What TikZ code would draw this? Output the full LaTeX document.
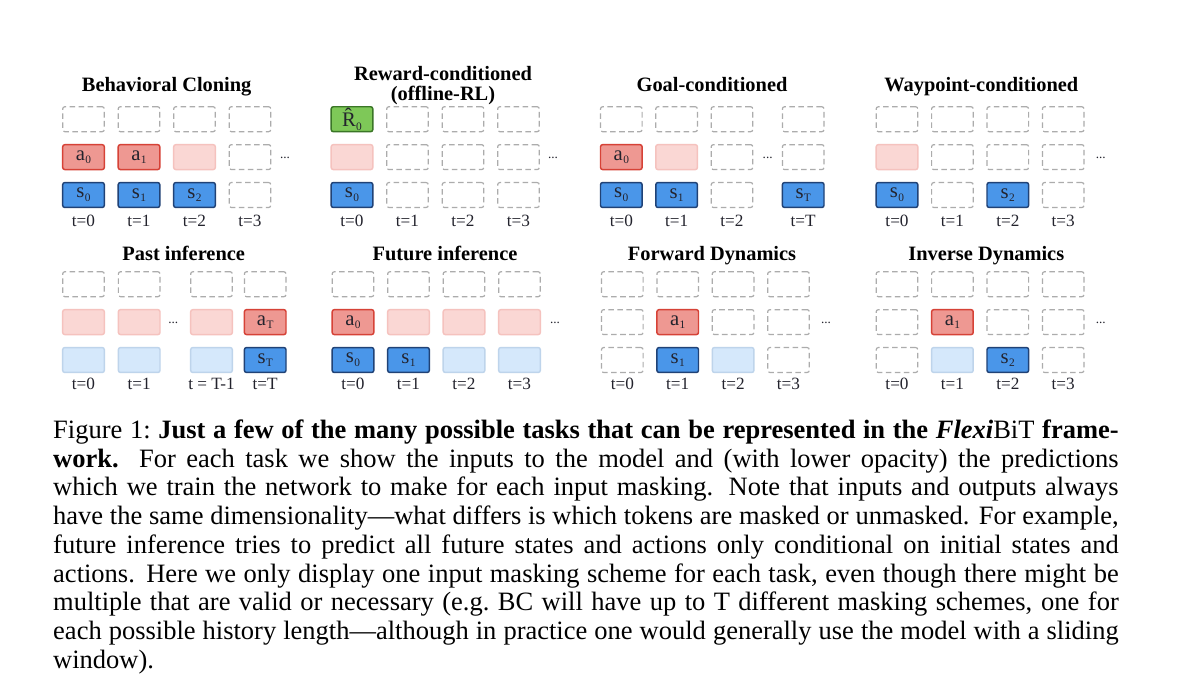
\documentclass[tikz,border=0pt]{standalone}
\usepackage{fontspec}
\setmainfont{Liberation Serif}
\definecolor{dgray}{RGB}{172,172,172}
\definecolor{actF}{RGB}{238,152,146}
\definecolor{actD}{RGB}{214,66,55}
\definecolor{actLF}{RGB}{250,215,212}
\definecolor{actLD}{RGB}{245,194,190}
\definecolor{stF}{RGB}{74,150,233}
\definecolor{stD}{RGB}{32,66,118}
\definecolor{stLF}{RGB}{213,232,251}
\definecolor{stLD}{RGB}{190,212,235}
\definecolor{rwF}{RGB}{126,200,88}
\definecolor{rwD}{RGB}{58,118,38}
\definecolor{txt}{RGB}{35,35,45}
\newcommand\tk[2]{#1\kern0.15pt\raisebox{-1.4pt}{\fontsize{4.3}{4.3}\selectfont #2}}
\newcommand\xs[4]{\def\xa{#1}\def\xb{#2}\def\xc{#3}\def\xd{#4}}
\newcommand\trow[6]{%
  \path (\xa,#2) node[#3,name=#1a];
  \path (\xb,#2) node[#4,name=#1b];
  \path (\xc,#2) node[#5,name=#1c];
  \path (\xd,#2) node[#6,name=#1d];}
\newcommand\tlab[6]{%
  \node[tlb] (#1a) at (\xa,#2) {#3};
  \node[tlb] (#1b) at (\xb,#2) {#4};
  \node[tlb] (#1c) at (\xc,#2) {#5};
  \node[tlb] (#1d) at (\xd,#2) {#6};}
\tikzset{
  tokb/.style={rectangle, rounded corners=0.8pt, minimum width=15.7pt, minimum height=9.4pt,
    inner sep=0pt, line width=0.55pt, font=\fontsize{7.8}{8}\selectfont, text=txt},
  emptb/.style={tokb, draw=dgray, dash pattern=on 2.1pt off 1.3pt, line width=0.45pt},
  empt/.style={emptb, node contents={}},
  act/.style={tokb, draw=actD, fill=actF, node contents={\tk{a}{#1}}},
  actp/.style={tokb, draw=actLD, fill=actLF, node contents={}},
  st/.style={tokb, draw=stD, fill=stF, node contents={\tk{s}{#1}}},
  stp/.style={tokb, draw=stLD, fill=stLF, node contents={}},
  rew/.style={tokb, draw=rwD, fill=rwF, node contents={\tk{\^{R}}{0}}},
  ttl/.style={anchor=base, inner sep=0pt, font=\fontsize{7.7}{9}\selectfont\bfseries, text=black},
  tlb/.style={anchor=base, inner sep=0pt, font=\fontsize{6.5}{7}\selectfont, text=txt},
  dotsb/.style={anchor=base, inner sep=0pt, font=\fontsize{5}{6}\selectfont, text=txt},
  captxt/.style={anchor=base west, inner sep=0pt, font=\fontsize{10}{10.85}\selectfont, text=black}
}
\begin{document}
\begin{tikzpicture}[x=0.3774pt, y=-0.3774pt]
\fill[white] (0,0) rectangle (1200,691);
\useasboundingbox (0,0) rectangle (1200,691);
% ---------- Panel 1: Behavioral Cloning
\node[ttl] (T1) at (166.7,91.7) {Behavioral Cloning};
\xs{83.5}{139}{194.5}{250}
\trow{pA0}{119.2}{empt}{empt}{empt}{empt}
\trow{pA1}{157.1}{act=0}{act=1}{actp}{empt}
\trow{pA2}{195}{st=0}{st=1}{st=2}{empt}
\tlab{pAt}{226.7}{t=0}{t=1}{t=2}{t=3}
\node[dotsb] (dA) at (285,158.5) {...};
% ---------- Panel 2: Reward-conditioned
\node[ttl] (T2a) at (443,80.7) {Reward-conditioned};
\node[ttl] (T2b) at (443,100.5) {(offline-RL)};
\xs{352}{407.5}{463}{518.5}
\trow{pB0}{119.2}{rew}{empt}{empt}{empt}
\trow{pB1}{157.1}{actp}{empt}{empt}{empt}
\trow{pB2}{195}{st=0}{empt}{empt}{empt}
\tlab{pBt}{226.7}{t=0}{t=1}{t=2}{t=3}
\node[dotsb] (dB) at (553,158.5) {...};
% ---------- Panel 3: Goal-conditioned
\node[ttl] (T3) at (712,91.7) {Goal-conditioned};
\xs{621.3}{676.6}{732}{803.2}
\trow{pC0}{119.2}{empt}{empt}{empt}{empt}
\trow{pC1}{157.1}{act=0}{actp}{empt}{empt}
\trow{pC2}{195}{st=0}{st=1}{empt}{st=T}
\tlab{pCt}{226.7}{t=0}{t=1}{t=2}{t=T}
\node[dotsb] (dC) at (767.7,158.5) {...};
% ---------- Panel 4: Waypoint-conditioned
\node[ttl] (T4) at (981.3,91.7) {Waypoint-conditioned};
\xs{897}{952.4}{1007.8}{1063.2}
\trow{pD0}{119.2}{empt}{empt}{empt}{empt}
\trow{pD1}{157.1}{actp}{empt}{empt}{empt}
\trow{pD2}{195}{st=0}{empt}{st=2}{empt}
\tlab{pDt}{226.7}{t=0}{t=1}{t=2}{t=3}
\node[dotsb] (dD) at (1100.7,158.5) {...};
% ---------- Panel 5: Past inference
\node[ttl] (T5) at (183.7,260) {Past inference};
\xs{83.5}{139.2}{211.5}{265.2}
\trow{pE0}{284.2}{empt}{empt}{empt}{empt}
\trow{pE1}{322.1}{actp}{actp}{actp}{act=T}
\trow{pE2}{360}{stp}{stp}{stp}{st=T}
\tlab{pEt}{389}{t=0}{t=1}{t = T-1}{t=T}
\node[dotsb] (dE) at (173.3,323.5) {...};
% ---------- Panel 6: Future inference
\node[ttl] (T6) at (445,260) {Future inference};
\xs{353}{408.5}{464}{519.5}
\trow{pF0}{284.2}{empt}{empt}{empt}{empt}
\trow{pF1}{322.1}{act=0}{actp}{actp}{actp}
\trow{pF2}{360}{st=0}{st=1}{stp}{stp}
\tlab{pFt}{389}{t=0}{t=1}{t=2}{t=3}
\node[dotsb] (dF) at (555,323.5) {...};
% ---------- Panel 7: Forward Dynamics
\node[ttl] (T7) at (712,260) {Forward Dynamics};
\xs{622.3}{677.7}{733.1}{788.5}
\trow{pG0}{284.2}{empt}{empt}{empt}{empt}
\trow{pG1}{322.1}{empt}{act=1}{empt}{empt}
\trow{pG2}{360}{empt}{st=1}{stp}{empt}
\tlab{pGt}{389}{t=0}{t=1}{t=2}{t=3}
\node[dotsb] (dG) at (826,323.5) {...};
% ---------- Panel 8: Inverse Dynamics
\node[ttl] (T8) at (986.3,260) {Inverse Dynamics};
\xs{897}{952.4}{1007.8}{1063.2}
\trow{pH0}{284.2}{empt}{empt}{empt}{empt}
\trow{pH1}{322.1}{empt}{act=1}{empt}{empt}
\trow{pH2}{360}{empt}{stp}{st=2}{empt}
\tlab{pHt}{389}{t=0}{t=1}{t=2}{t=3}
\node[dotsb] (dH) at (1100.7,323.5) {...};
% ---------- Caption
\node[captxt] (c1) at (52.7,438.3) {\makebox[402.1pt][s]{Figure 1:\ \textbf{Just a few of the many possible tasks that can be represented in the \textit{Flexi}\textmd{BiT} frame-}}};
\node[captxt] (c2) at (52.7,467.05) {\makebox[402.1pt][s]{\textbf{work.} For each task we show the inputs to the model and (with lower opacity) the predictions}};
\node[captxt] (c3) at (52.7,495.8) {\makebox[402.1pt][s]{which we train the network to make for each input masking. Note that inputs and outputs always}};
\node[captxt] (c4) at (52.7,524.55) {\makebox[402.1pt][s]{have the same dimensionality---what differs is which tokens are masked or unmasked. For example,}};
\node[captxt] (c5) at (52.7,553.3) {\makebox[402.1pt][s]{future inference tries to predict all future states and actions only conditional on initial states and}};
\node[captxt] (c6) at (52.7,582.05) {\makebox[402.1pt][s]{actions. Here we only display one input masking scheme for each task, even though there might be}};
\node[captxt] (c7) at (52.7,610.8) {\makebox[402.1pt][s]{multiple that are valid or necessary (e.g.\ BC will have up to T different masking schemes, one for}};
\node[captxt] (c8) at (52.7,639.55) {\makebox[402.1pt][s]{each possible history length---although in practice one would generally use the model with a sliding}};
\node[captxt] (c9) at (52.7,668.3) {window).};
\end{tikzpicture}
\end{document}
